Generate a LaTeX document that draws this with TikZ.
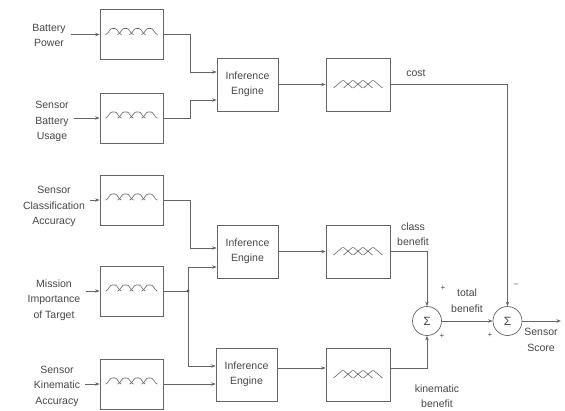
\documentclass[tikz,border=0pt]{standalone}
\usepackage{fontspec}
\setmainfont{Liberation Sans}
\usetikzlibrary{arrows.meta}
\begin{document}
\begin{tikzpicture}[x=1pt,y=-1pt,
  line width=0.7pt,
  every node/.style={text=black!72, font=\fontsize{10.5}{15.5}\selectfont},
  blk/.style={draw=black!60, minimum width=63pt, minimum height=50pt, inner sep=0pt},
  ie/.style={draw=black!60, minimum width=61pt, minimum height=53pt, inner sep=0pt, align=center},
  blkb/.style={draw=black!60, minimum width=64pt, minimum height=53pt, inner sep=0pt},
  sig/.style={draw=black!60, circle, minimum size=29pt, inner sep=0pt, font=\fontsize{12}{12}\selectfont},
  lbl/.style={align=center, inner xsep=5pt, inner ysep=0pt},
  tag/.style={inner sep=0pt, font=\fontsize{8}{8}\selectfont},
  conn/.style={draw=black!60, -{Stealth[length=4.5pt,width=3.5pt]}},
  wire/.style={draw=black!60},
  bells/.pic={\foreach \c in {-18,-6,6,18}
      \draw[black!60, line width=0.6pt, shift={(\c,0)}] plot[domain=-8:8, samples=30, smooth] (\x,{1-7/(1+(\x/5)^4)});},
  tris/.pic={\foreach \c in {-15,-5,5,15}
      \draw[black!60, line width=0.6pt, rounded corners=1pt] (\c-9.5,3.5) -- (\c,-4.5) -- (\c+9.5,3.5);}
]
\useasboundingbox (0,0) rectangle (565,410);

% input fuzzy boxes
\node[blk] (f1) at (131.5,34.5) {};
\node[blk] (f2) at (131.5,118) {};
\node[blk] (f3) at (131.5,200) {};
\node[blk] (f4) at (131.5,291) {};
\node[blk] (f5) at (131.5,384) {};
\foreach \n in {f1,f2,f3,f4,f5} \pic at (\n.center) {bells};

% inference engines
\node[ie] (e1) at (247.5,84.5) {Inference\\Engine};
\node[ie] (e2) at (247.5,251.5) {Inference\\Engine};
\node[ie] (e3) at (246.5,374.5) {Inference\\Engine};

% output fuzzy boxes
\node[blkb] (o1) at (358,84.5) {};
\node[blkb] (o2) at (358,251.5) {};
\node[blkb] (o3) at (358,374.5) {};
\foreach \n in {o1,o2,o3} \pic at (\n.center) {tris};

% summing junctions
\node[sig] (s1) at (427,321) {Σ};
\node[sig] (s2) at (507.5,321) {Σ};
\coordinate (out) at (561,321);

% input labels
\node[lbl] (l1) at (49,35.5) {Battery\\Power};
\node[lbl] (l2) at (52,121.5) {Sensor\\Battery\\Usage};
\node[lbl] (l3) at (54,206.5) {Sensor\\Classification\\Accuracy};
\node[lbl] (l4) at (54,300) {Mission\\Importance\\of Target};
\node[lbl] (l5) at (57,386) {Sensor\\Kinematic\\Accuracy};

% other labels
\node[inner sep=0pt] (tcost) at (416,73) {cost};
\node[align=center, inner sep=0pt] (tclass) at (413,234) {class\\benefit};
\node[align=center, inner sep=0pt] (ttotal) at (467,300.5) {total\\benefit};
\node[align=center, inner sep=0pt] (tscore) at (541,340) {Sensor\\Score};
\node[align=center, inner sep=0pt] (tkin) at (437,396) {kinematic\\benefit};
\node[tag] (p1) at (443,288) {+};
\node[tag] (p2) at (442,336) {+};
\node[tag] (p3) at (516,285) {–};
\node[tag] (p4) at (490,335) {+};

% input arrows
\draw[conn] (l1.east |- f1.west) -- (f1.west);
\draw[conn] (l2.east |- f2.west) -- (f2.west);
\draw[conn] (l3.east |- f3.west) -- (f3.west);
\draw[conn] (l4.east |- f4.west) -- (f4.west);
\draw[conn] (l5.east |- f5.west) -- (f5.west);

% to inference engines
\draw[conn] (f1.east) -| (190,72) -- (e1.west |- 0,72);
\draw[conn] (f2.east) -| (190,100) -- (e1.west |- 0,100);
\draw[conn] (f3.east) -| (190,248) -- (e2.west |- 0,248);
\coordinate (j) at (188,291);
\draw[wire] (f4.east) -- (j);
\fill[black!70] (j) circle (1.6pt);
\draw[conn] (j) |- (e2.west |- 0,267);
\draw[conn] (j) |- (e3.west |- 0,366);
\draw[conn] (f5.east) -- (e3.west |- f5.east);

% engines to output boxes
\draw[conn] (e1.east) -- (o1.west);
\draw[conn] (e2.east) -- (o2.west);
\draw[conn] (e3.east |- 0,368) -- (o3.west |- 0,368);

% to summing junctions
\draw[conn] (o1.east) -| (s2.north);
\draw[conn] (o2.east) -| (s1.north);
\draw[conn] (o3.east |- 0,368) -| (s1.south);
\draw[conn] (s1.east) -- (s2.west);
\draw[conn] (s2.east) -- (out);
\end{tikzpicture}
\end{document}
